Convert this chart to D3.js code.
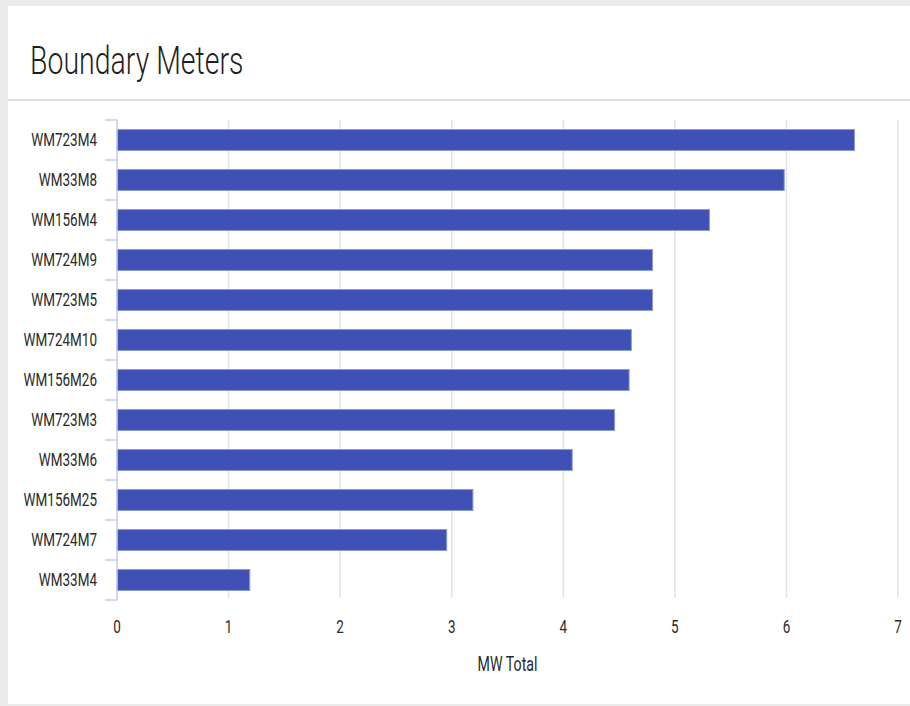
<!DOCTYPE html>
<html>
<head>
<meta charset="utf-8">
<script src="https://cdn.jsdelivr.net/npm/d3@7"></script>
<style>
  html, body { margin: 0; padding: 0; background: #ebebeb; }
  svg { display: block; font-family: Roboto, "Noto Sans", sans-serif; }
</style>
</head>
<body>
<svg id="chart" width="910" height="706"></svg>
<script>
const title = "Boundary Meters";
const categories = ["WM723M4","WM33M8","WM156M4","WM724M9","WM723M5","WM724M10","WM156M26","WM723M3","WM33M6","WM156M25","WM724M7","WM33M4"];
const values = [6.61, 5.98, 5.31, 4.80, 4.80, 4.61, 4.59, 4.46, 4.08, 3.19, 2.955, 1.19];
const xTicks = [0,1,2,3,4,5,6,7];
const xAxisTitle = "MW Total";

const SX = 0.71; // horizontal text compression seen in the reference
const svg = d3.select("#chart");

// card
svg.append("rect").attr("x", 8).attr("y", 6).attr("width", 910).attr("height", 698).attr("fill", "#ffffff");
svg.append("rect").attr("x", 8).attr("y", 99).attr("width", 910).attr("height", 2).attr("fill", "#dedede");

svg.append("text")
  .attr("transform", `translate(30,74) scale(0.74,1)`)
  .attr("font-size", 38.5).attr("font-weight", 300).attr("fill", "#1f1f1f")
  .text(title);

const x = d3.scaleLinear().domain([0, 7]).range([117, 898]);
const y = d3.scaleBand().domain(categories).range([120, 600]).paddingInner(0.475).paddingOuter(0.2375);

// gridlines
svg.append("g").selectAll("line").data(xTicks.filter(d => d > 0)).join("line")
  .attr("x1", d => x(d)).attr("x2", d => x(d))
  .attr("y1", 120).attr("y2", 598)
  .attr("stroke", "#e3e3e3").attr("stroke-width", 1.5);

// bars
svg.append("g").selectAll("rect").data(categories).join("rect")
  .attr("x", x(0))
  .attr("y", d => y(d))
  .attr("width", (d, i) => x(values[i]) - x(0))
  .attr("height", y.bandwidth())
  .attr("fill", "#3f51b5")
  .attr("stroke", "#8e99d6").attr("stroke-width", 1);

// y axis line + ticks at band boundaries
const yAxisColor = "#c5cae9";
svg.append("line").attr("x1", 117).attr("x2", 117).attr("y1", 120).attr("y2", 600)
  .attr("stroke", yAxisColor).attr("stroke-width", 1.5);
const boundaries = categories.map(c => y(c) - y.step() * y.paddingInner() / 2).concat([600]);
svg.append("g").selectAll("line").data(boundaries).join("line")
  .attr("x1", 105).attr("x2", 117)
  .attr("y1", d => d).attr("y2", d => d)
  .attr("stroke", yAxisColor).attr("stroke-width", 1.5);

// y labels
svg.append("g").selectAll("text").data(categories).join("text")
  .attr("transform", d => `translate(97,${y(d) + y.bandwidth() / 2}) scale(${SX},1)`)
  .attr("text-anchor", "end").attr("dominant-baseline", "central")
  .attr("font-size", 19).attr("fill", "#2a2a2a")
  .text(d => d);

// x tick labels
svg.append("g").selectAll("text").data(xTicks).join("text")
  .attr("transform", d => `translate(${x(d)},633) scale(${SX},1)`)
  .attr("text-anchor", "middle")
  .attr("font-size", 19).attr("fill", "#2a2a2a")
  .text(d => d);

svg.append("text")
  .attr("transform", `translate(${(x(0) + x(7)) / 2},671) scale(${SX},1)`)
  .attr("text-anchor", "middle")
  .attr("font-size", 20).attr("fill", "#2a2a2a")
  .text(xAxisTitle);
</script>
</body>
</html>
